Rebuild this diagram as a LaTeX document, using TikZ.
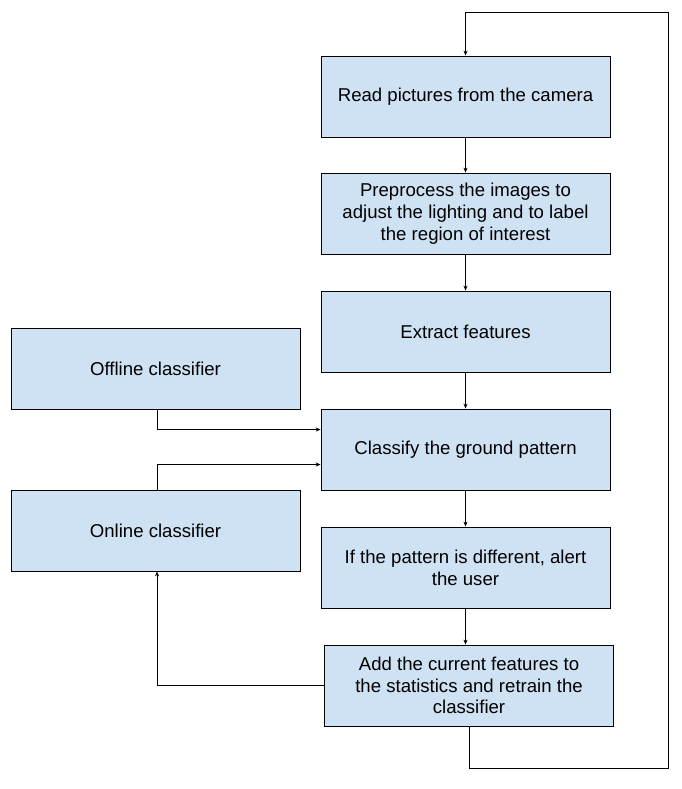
\documentclass[tikz,border=0pt]{standalone}
\usepackage{fontspec}
\setmainfont{Liberation Sans}
\usetikzlibrary{arrows.meta}
\definecolor{boxfill}{HTML}{CFE2F3}
\begin{document}
\begin{tikzpicture}[x=1pt,y=-1pt,
  procbox/.style={draw=black, line width=0.8pt, fill=boxfill, minimum width=289pt, minimum height=81pt,
    inner sep=0pt, align=center, font=\fontsize{18.6}{21.7}\selectfont},
  conn/.style={draw=black, line width=0.8pt},
  arr/.style={conn, -{Stealth[length=5pt,width=4pt]}}]
\useasboundingbox (0,0) rectangle (681,789);
\fill[white] (0,0) rectangle (681,789);
\node[procbox] (read) at (465.5,96.5) {Read pictures from the camera};
\node[procbox] (prep) at (465.5,213.5) {Preprocess the images to\\adjust the lighting and to label\\the region of interest};
\node[procbox] (extr) at (465.5,331.5) {Extract features};
\node[procbox] (cls) at (465.5,449.5) {Classify the ground pattern};
\node[procbox] (alert) at (465.5,567.5) {If the pattern is different, alert\\the user};
\node[procbox] (add) at (469,685.5) {Add the current features to\\the statistics and retrain the\\classifier};
\node[procbox] (off) at (155.5,368.5) {Offline classifier};
\node[procbox] (on) at (155.5,530.5) {Online classifier};
\coordinate (br) at (668,768);
\coordinate (tr) at (668,12);
\draw[arr] (read) -- (prep);
\draw[arr] (prep) -- (extr);
\draw[arr] (extr) -- (cls);
\draw[arr] (cls) -- (alert);
\draw[arr] (alert.south) -- (alert.south |- add.north);
\draw[arr] ([xshift=1.5pt]off.south) |- ([yshift=20pt]cls.west);
\draw[arr] ([xshift=1.5pt]on.north) |- ([yshift=-15pt]cls.west);
\draw[arr] (add.west) -| ([xshift=1.5pt]on.south);
\draw[arr] (add.south) |- (br) -- (tr) -| (read.north);
\end{tikzpicture}
\end{document}
